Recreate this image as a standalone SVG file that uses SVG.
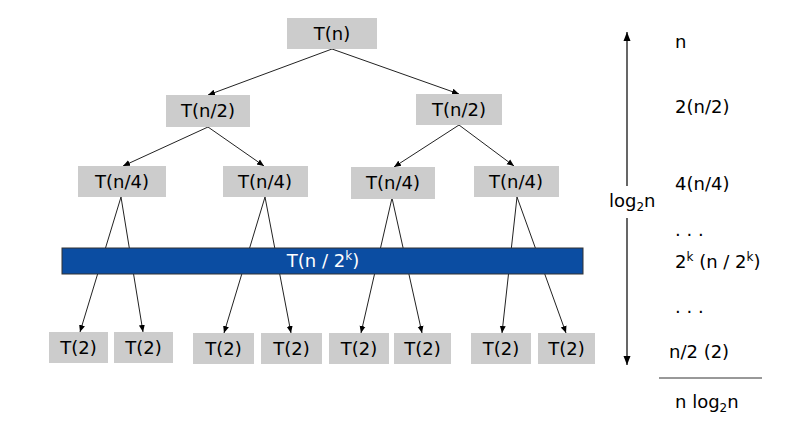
<svg xmlns="http://www.w3.org/2000/svg" width="799" height="421" viewBox="0 0 799 421">
<defs>
<marker id="ah" markerWidth="8" markerHeight="8" refX="7" refY="4" orient="auto" markerUnits="userSpaceOnUse">
<path d="M0,1 L7,4 L0,7 Z" fill="#000"/>
</marker>
<marker id="ahb" markerWidth="10" markerHeight="10" refX="9" refY="5" orient="auto" markerUnits="userSpaceOnUse">
<path d="M0,1.5 L9,5 L0,8.5 Z" fill="#000"/>
</marker>
<style>
.box{fill:#cccccc;}
.t{font-family:"DejaVu Sans","Liberation Sans",sans-serif;font-size:18px;fill:#000;text-anchor:middle;}
.r{font-family:"DejaVu Sans","Liberation Sans",sans-serif;font-size:18px;fill:#000;}
.e{stroke:#222;stroke-width:1;fill:none;marker-end:url(#ah);}
</style>
</defs>
<rect width="799" height="421" fill="#fff"/>
<g id="connectors">
<line class="e" x1="332" y1="49" x2="208" y2="95"/>
<line class="e" x1="332" y1="49" x2="459" y2="94"/>
<line class="e" x1="208" y1="127" x2="123" y2="166"/>
<line class="e" x1="208" y1="127" x2="264" y2="166"/>
<line class="e" x1="459" y1="125" x2="394" y2="167"/>
<line class="e" x1="459" y1="125" x2="514" y2="166"/>
<line class="e" x1="121" y1="197" x2="80" y2="332"/>
<line class="e" x1="121" y1="197" x2="143" y2="332"/>
<line class="e" x1="265" y1="197" x2="224" y2="333"/>
<line class="e" x1="265" y1="197" x2="291" y2="333"/>
<line class="e" x1="392" y1="198" x2="361" y2="333"/>
<line class="e" x1="392" y1="198" x2="422" y2="333"/>
<line class="e" x1="517" y1="197" x2="502" y2="333"/>
<line class="e" x1="517" y1="197" x2="566" y2="333"/>
</g>
<g id="n_root"><rect class="box" x="287" y="18" width="90" height="31"/><text class="t" x="332" y="40">T(n)</text></g>
<g id="n_h1"><rect class="box" x="166" y="95" width="84" height="32"/><text class="t" x="208" y="117">T(n/2)</text></g>
<g id="n_h2"><rect class="box" x="416" y="94" width="86" height="31"/><text class="t" x="459" y="116">T(n/2)</text></g>
<g id="n_q1"><rect class="box" x="78" y="166" width="88" height="31"/><text class="t" x="122" y="188">T(n/4)</text></g>
<g id="n_q2"><rect class="box" x="223" y="166" width="85" height="31"/><text class="t" x="265" y="188">T(n/4)</text></g>
<g id="n_q3"><rect class="box" x="351" y="167" width="84" height="32"/><text class="t" x="393" y="189">T(n/4)</text></g>
<g id="n_q4"><rect class="box" x="474" y="166" width="85" height="31"/><text class="t" x="516" y="188">T(n/4)</text></g>
<g id="n_bar"><rect x="62" y="248" width="521" height="26" fill="#0b4da2" stroke="#333" stroke-width="1"/><text class="t" x="323" y="267" style="fill:#fff">T(n / 2<tspan font-size="12" dy="-7">k</tspan><tspan dy="7">)</tspan></text></g>
<g id="n_l1"><rect class="box" x="49" y="332" width="59" height="31"/><text class="t" x="78.5" y="354">T(2)</text></g>
<g id="n_l2"><rect class="box" x="114" y="332" width="59" height="31"/><text class="t" x="143.5" y="354">T(2)</text></g>
<g id="n_l3"><rect class="box" x="193" y="333" width="61" height="31"/><text class="t" x="223.5" y="355">T(2)</text></g>
<g id="n_l4"><rect class="box" x="261" y="333" width="61" height="31"/><text class="t" x="291.5" y="355">T(2)</text></g>
<g id="n_l5"><rect class="box" x="329" y="333" width="60" height="31"/><text class="t" x="359" y="355">T(2)</text></g>
<g id="n_l6"><rect class="box" x="394" y="333" width="57" height="31"/><text class="t" x="422.5" y="355">T(2)</text></g>
<g id="n_l7"><rect class="box" x="471" y="333" width="60" height="31"/><text class="t" x="501" y="355">T(2)</text></g>
<g id="n_l8"><rect class="box" x="538" y="333" width="57" height="31"/><text class="t" x="566.5" y="355">T(2)</text></g>
<g id="axis">
<line x1="627" y1="186" x2="627" y2="32" stroke="#000" stroke-width="1.2" marker-end="url(#ahb)"/>
<line x1="627" y1="218" x2="627" y2="365" stroke="#000" stroke-width="1.2" marker-end="url(#ahb)"/>
<text class="r" x="609" y="207">log<tspan font-size="12" dy="4">2</tspan><tspan dy="-4">n</tspan></text>
</g>
<g id="costs">
<text class="r" x="675" y="48">n</text>
<text class="r" x="675" y="113">2(n/2)</text>
<text class="r" x="675" y="190">4(n/4)</text>
<text class="r" x="675" y="236">. . .</text>
<text class="r" x="675" y="268">2<tspan font-size="12" dy="-7">k</tspan><tspan dy="7"> (n / 2</tspan><tspan font-size="12" dy="-7">k</tspan><tspan dy="7">)</tspan></text>
<text class="r" x="675" y="313">. . .</text>
<text class="r" x="669" y="358">n/2 (2)</text>
<line x1="659" y1="378" x2="762" y2="378" stroke="#333" stroke-width="1"/>
<text class="r" x="675" y="408">n log<tspan font-size="12" dy="4">2</tspan><tspan dy="-4">n</tspan></text>
</g>
</svg>
